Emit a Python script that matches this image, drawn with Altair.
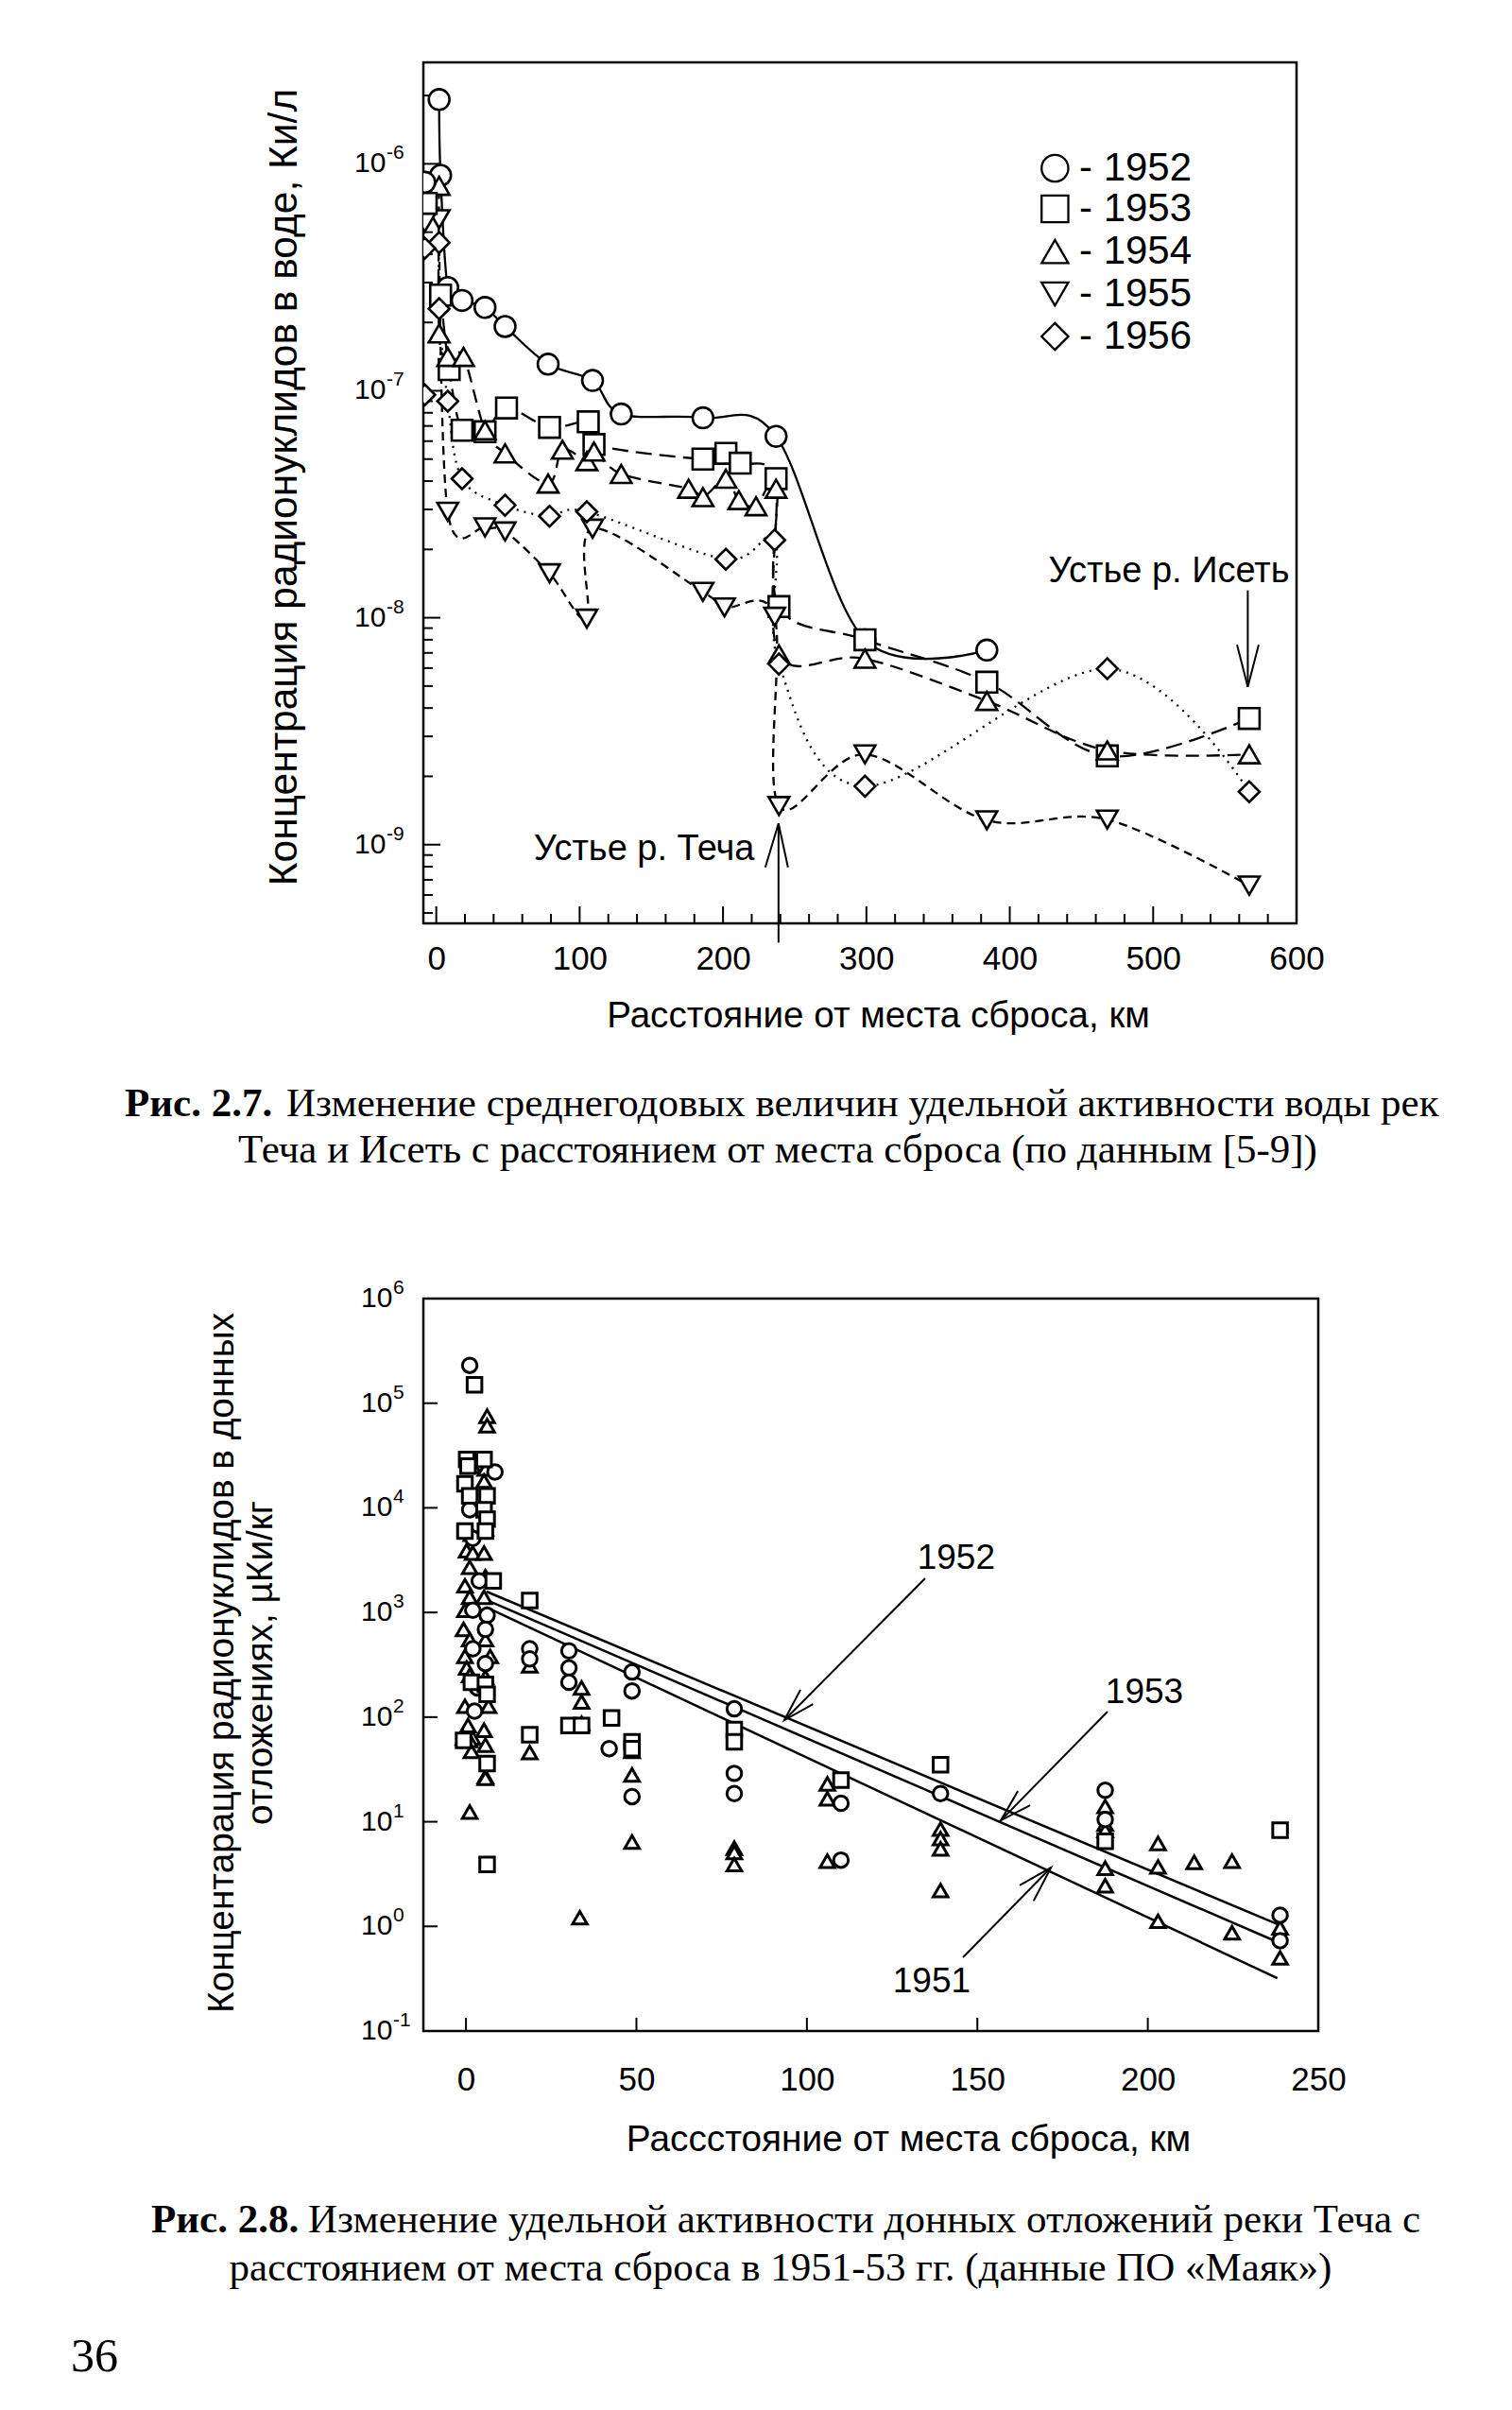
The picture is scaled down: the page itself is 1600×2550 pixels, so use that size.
import altair as alt
import pandas as pd

# ================= Fig. 2.7 : water =================
years_top = ["1952", "1953", "1954", "1955", "1956"]
shapes_top = ["circle", "square", "triangle-up", "triangle-down", "diamond"]

km_1952 = [2, 3, 8, 18, 34, 48, 78, 109, 129, 186, 237, 299, 384]
val_1952 = [1.92e-6, 8.9e-7, 2.85e-7, 2.5e-7, 2.33e-7, 1.92e-7, 1.31e-7, 1.11e-7, 7.9e-8, 7.6e-8, 6.3e-8, 8.0e-9, 7.2e-9]

km_1953 = [3, 9, 18, 34, 49, 79, 106, 110, 186, 202, 212, 237, 239, 299, 384, 468, 567]
val_1953 = [2.64e-7, 1.24e-7, 6.7e-8, 6.6e-8, 8.4e-8, 6.9e-8, 7.3e-8, 5.8e-8, 5.0e-8, 5.3e-8, 4.8e-8, 4.1e-8, 1.12e-8, 8.0e-9, 5.2e-9, 2.46e-9, 3.6e-9]

km_1954 = [2, 2, 8, 19, 34, 48, 78, 88, 105, 110, 129, 176, 186, 202, 211, 223, 237, 239, 299, 384, 468, 567]
val_1954 = [8.0e-7, 1.79e-7, 1.41e-7, 1.41e-7, 6.7e-8, 5.3e-8, 3.9e-8, 5.5e-8, 4.9e-8, 5.4e-8, 4.3e-8, 3.7e-8, 3.4e-8, 4.1e-8, 3.3e-8, 3.1e-8, 3.7e-8, 6.9e-9, 6.6e-9, 4.3e-9, 2.6e-9, 2.5e-9]

km_1955 = [2, 8, 34, 48, 79, 105, 109, 186, 201, 236, 239, 299, 384, 468, 567]
val_1955 = [5.7e-7, 2.93e-8, 2.5e-8, 2.4e-8, 1.57e-8, 9.9e-9, 2.47e-8, 1.3e-8, 1.11e-8, 1.01e-8, 1.48e-9, 2.5e-9, 1.28e-9, 1.29e-9, 6.6e-10]

km_1956 = [2, 2, 8, 18, 48, 79, 105, 202, 236, 239, 299, 468, 567]
val_1956 = [4.5e-7, 2.3e-7, 9.0e-8, 4.1e-8, 3.13e-8, 2.8e-8, 2.93e-8, 1.81e-8, 2.2e-8, 6.25e-9, 1.81e-9, 5.96e-9, 1.71e-9]

# markers half hidden behind the left frame
edge_year = ["1952", "1953", "1955", "1956", "1956"]
edge_km = [-8, -7, -8, -8, -8]
edge_val = [8.3e-7, 6.7e-7, 5.5e-7, 4.25e-7, 9.6e-8]

# legend placed inside the plot (data coordinates)
legend_labels = ["- 1952", "- 1953", "- 1954", "- 1955", "- 1956"]
legend_val = [9.56e-7, 6.33e-7, 4.11e-7, 2.67e-7, 1.735e-7]
legend_symbol_km = 431.5
legend_text_km = 448.4

x_ticks_top = [0, 100, 200, 300, 400, 500, 600]
y_ticks_top = [1e-9, 1e-8, 1e-7, 1e-6]
y_exp_top = ["-9", "-8", "-7", "-6"]

# annotations (data coordinates)
techa_text = ["Устье р. Теча"]
techa_text_km = [145]
techa_text_val = [9.5e-10]
iset_text = ["Устье р. Исеть"]
iset_text_km = [511]
iset_text_val = [1.6e-8]
techa_arrow_km = [238.7, 238.7, 229.5, 238.7, 245.3]
techa_arrow_val = [3.7e-10, 1.24e-9, 7.94e-10, 1.24e-9, 7.94e-10]
techa_arrow_part = ["shaft", "shaft", "head", "head", "head"]
iset_arrow_km = [566, 566, 558.5, 566, 573.6]
iset_arrow_val = [1.32e-8, 4.96e-9, 7.6e-9, 4.96e-9, 7.6e-9]
iset_arrow_part = ["shaft", "shaft", "head", "head", "head"]

cap27_bold = "Рис. 2.7."
cap27_line1 = "Изменение среднегодовых величин удельной активности воды рек"
cap27_line2 = "Теча и Исеть с расстоянием от места сброса (по данным [5-9])"

# ================= Fig. 2.8 : bottom sediments =================
years_bot = ["1951", "1952", "1953"]
shapes_bot = ["triangle-up", "circle", "square"]

km_b1951 = [6.2, 6.2, 2.0, 5.7, 5.3, 5.7, 1.6, 0.2, 2.0, 5.3, 1.1, 5.7, -0.3, 1.1, 5.3, -0.3, -0.7, 1.1, 5.7,
            -0.3, 7.1, 0.2, 1.1, 5.7, -0.3, 6.6, 0.6, 5.3, -0.7, 2.0, 1.1, 1.6, 5.7, 5.7, 5.7, 1.1,
            18.7, 18.7, 33.9, 33.9, 33.9, 33.4, 48.7, 48.7, 48.7, 78.7, 78.7, 78.7, 106, 106, 106,
            139.2, 139.2, 139.2, 139.2, 187.5, 187.5, 187.5, 187.5, 187.5, 203, 203, 203, 213.6, 224.7, 224.7,
            238.8, 238.8]
val_b1951 = [7.5e4, 6.1e4, 2.5e4, 2.35e4, 1.8e4, 6.3e3, 5.6e3, 3.9e3, 3.7e3, 3.7e3, 2.7e3, 2.2e3, 1.8e3, 1.4e3,
             1.4e3, 1.05e3, 690, 550, 550, 380, 380, 295, 250, 240, 127, 127, 83, 75, 63, 63, 60, 47, 54, 27, 26, 12.4,
             310, 46, 190, 140, 87, 1.21, 47, 28, 6.4, 5.6, 5.1, 3.9, 23, 16.6, 4.2,
             8.5, 6.9, 5.5, 2.2, 14, 9.5, 8.3, 3.6, 2.45, 6.2, 3.7, 1.12, 4.1, 4.2, 0.87,
             0.97, 0.5]

km_b1952 = [1.1, 8.5, 1.1, 2.0, 3.9, 2.0, 6.2, 5.7, 2.0, 5.7, 3.4, 2.5,
            18.7, 18.7, 30.2, 30.2, 30.2, 42, 48.7, 48.7, 48.7, 78.7, 78.7, 78.7, 110, 110, 139.2,
            187.5, 187.5, 238.8, 238.8]
val_b1952 = [2.3e5, 2.2e4, 9.6e3, 5.1e3, 2.0e3, 1.05e3, 940, 690, 450, 325, 190, 114,
             450, 360, 430, 295, 215, 50, 270, 178, 17.4, 120, 29, 18.6, 15, 4.3, 18.6,
             20, 10.5, 1.28, 0.73]

km_b1953 = [2.5, 0.2, 0.6, 5.3, -0.3, 1.1, 6.2, 5.3, 6.2, -0.3, 5.7, 8.0, 1.6, 5.7, 6.2, -0.7, 6.2, 6.2,
            18.7, 18.7, 30.2, 33.9, 42.7, 48.7, 48.7, 78.7, 78.7, 110, 139.2, 187.5, 238.8]
val_b1953 = [1.5e5, 2.9e4, 2.5e4, 2.9e4, 1.7e4, 1.3e4, 1.3e4, 9.6e3, 7.8e3, 6.0e3, 6.0e3, 2.0e3, 215, 205, 165,
             60, 36, 3.9,
             1.3e3, 68, 83, 83, 98, 58, 50, 76, 58, 25, 35, 6.5, 8.3]

# fitted lines (end points)
reg_year = ["1952", "1952", "1953", "1953", "1951", "1951"]
reg_km = [6, 238, 6, 238, 6, 238]
reg_val = [1585, 1.05, 1320, 0.71, 1120, 0.32]

lab_bot_text = ["1952", "1953", "1951"]
lab_bot_km = [143.8, 199, 136.6]
lab_bot_val = [3280, 171, 0.295]

arr_bot_km = [134.7, 93.4, 98.1, 93.4, 101.8,
              188.2, 156.9, 161.9, 156.9, 165.5,
              145.8, 171.6, 162.4, 171.6, 166.5]
arr_bot_val = [2120, 93.6, 182, 93.6, 133,
               113, 10.3, 19.7, 10.3, 14.4,
               0.506, 3.65, 2.47, 3.65, 1.75]
arr_bot_part = ["a1", "a1", "h1", "h1", "h1",
                "a2", "a2", "h2", "h2", "h2",
                "a3", "a3", "h3", "h3", "h3"]

x_ticks_bot = [0, 50, 100, 150, 200, 250]
y_ticks_bot = [0.1, 1, 10, 100, 1e3, 1e4, 1e5, 1e6]
y_exp_bot = ["-1", "0", "1", "2", "3", "4", "5", "6"]

cap28_bold = "Рис. 2.8."
cap28_line1 = "Изменение удельной активности донных отложений реки Теча с"
cap28_line2 = "расстоянием от места сброса в 1951-53 гг. (данные ПО «Маяк»)"
page_number = "36"

# ================= helpers =================
SANS = "Liberation Sans, Arial, DejaVu Sans"
NARROW = "Liberation Sans Narrow, Arial Narrow, Liberation Sans"
SERIF = "Liberation Serif, Times New Roman, DejaVu Serif"
CAP = 43

W_TOP, H_TOP = 924, 911
W_BOT, H_BOT = 947, 775


def sdf(kms, vals, year):
    return pd.DataFrame({"km": kms, "val": vals, "year": year, "idx": list(range(len(kms)))})


def text_layer(txt, x, y, font, size, align="left", weight="normal"):
    return alt.Chart(pd.DataFrame({"t": [txt]})).mark_text(
        align=align, baseline="middle", font=font, fontSize=size, fontWeight=weight, color="black"
    ).encode(x=alt.value(x), y=alt.value(y), text="t:N")


def power_labels(values, exps, Y, x_base):
    """'10' with a raised exponent, placed at each tick through the y scale."""
    df = pd.DataFrame({"val": values, "base": ["10"] * len(values), "e": exps})
    base = alt.Chart(df).mark_text(align="left", baseline="middle", font=SANS, fontSize=30,
                                   color="black").encode(y=Y, x=alt.value(x_base), text="base:N")
    sup = alt.Chart(df).mark_text(align="left", baseline="middle", font=SANS, fontSize=21, dy=-11,
                                  color="black").encode(y=Y, x=alt.value(x_base + 34), text="e:N")
    return [base, sup]


# ================= top chart =================
xs_t = alt.Scale(domain=[-9, 600], nice=False, zero=False)
ys_t = alt.Scale(type="log", domain=[4.5e-10, 2.8e-6], nice=False)
ax_x_top = alt.Axis(
    values=x_ticks_top, format="d", labelFont=SANS, labelFontSize=35, labelColor="black",
    labelPadding=20, labelFlush=False, labelOverlap=False, ticks=False, tickSize=0, domain=False, grid=False,
    title="Расстояние от места сброса, км", titleFont=NARROW, titleFontSize=38.6,
    titleFontWeight="normal", titleColor="black", titleX=481, titleY=97,
    titleBaseline="middle", titleAlign="center")
ax_y_top = alt.Axis(
    values=y_ticks_top, labels=False, ticks=False, tickSize=0, domain=False, grid=False,
    title="Концентрация радионуклидов в воде, Ки/л", titleFont=NARROW, titleFontSize=42.5,
    titleFontWeight="normal", titleColor="black", titleAngle=270, titleX=-148, titleY=449,
    titleBaseline="middle", titleAlign="center")
Xt = alt.X("km:Q", scale=xs_t, axis=ax_x_top)
Yt = alt.Y("val:Q", scale=ys_t, axis=ax_y_top)

series_top = {
    "1952": (km_1952, val_1952, None),
    "1953": (km_1953, val_1953, [17, 8]),
    "1954": (km_1954, val_1954, [14, 8]),
    "1955": (km_1955, val_1955, [9, 6]),
    "1956": (km_1956, val_1956, [2, 6]),
}

top_layers = []
for yr, (k, v, dash) in series_top.items():
    kw = dict(interpolate="cardinal", color="black", strokeWidth=2.3, clip=True)
    if dash:
        kw["strokeDash"] = dash
    top_layers.append(alt.Chart(sdf(k, v, yr)).mark_line(**kw).encode(x=Xt, y=Yt, order="idx:Q"))

pts_top = pd.concat([sdf(k, v, yr) for yr, (k, v, _) in series_top.items()] +
                    [pd.DataFrame({"km": edge_km, "val": edge_val, "year": edge_year})], ignore_index=True)

shape_top = alt.Scale(domain=years_top, range=shapes_top)
top_points = alt.Chart(pts_top).mark_point(
    color="black", filled=False, fill="white", fillOpacity=1, strokeWidth=2.6, size=480, opacity=1, clip=True
).encode(x=Xt, y=Yt, shape=alt.Shape("year:N", scale=shape_top, legend=None))

legend_df = pd.DataFrame({"year": years_top, "val": legend_val, "t": legend_labels,
                          "ks": [legend_symbol_km] * 5, "kt": [legend_text_km] * 5})
legend_layers = [
    alt.Chart(legend_df).mark_point(color="black", filled=False, fill="white", fillOpacity=1,
                                    strokeWidth=2.3, size=800, opacity=1).encode(
        x=alt.X("ks:Q", scale=xs_t, axis=ax_x_top), y=Yt,
        shape=alt.Shape("year:N", scale=shape_top, legend=None)),
    alt.Chart(legend_df).mark_text(align="left", baseline="middle", font=SANS, fontSize=42,
                                   color="black").encode(
        x=alt.X("kt:Q", scale=xs_t, axis=ax_x_top), y=Yt, text="t:N"),
]

# tick marks pointing inwards
x_minor_top = [v for v in range(20, 600, 20) if v % 100 != 0]
y_minor_top = [m * 10.0 ** e for e in range(-10, -5) for m in range(2, 10) if 4.5e-10 < m * 10.0 ** e < 2.8e-6]

tick_layers_top = [
    alt.Chart(pd.DataFrame({"km": x_ticks_top})).mark_rule(color="black", strokeWidth=2).encode(
        x=Xt, y=alt.value(H_TOP), y2=alt.value(H_TOP - 18)),
    alt.Chart(pd.DataFrame({"km": x_minor_top})).mark_rule(color="black", strokeWidth=2).encode(
        x=Xt, y=alt.value(H_TOP), y2=alt.value(H_TOP - 10)),
    alt.Chart(pd.DataFrame({"val": y_ticks_top})).mark_rule(color="black", strokeWidth=2).encode(
        y=Yt, x=alt.value(0), x2=alt.value(18)),
    alt.Chart(pd.DataFrame({"val": y_minor_top})).mark_rule(color="black", strokeWidth=2).encode(
        y=Yt, x=alt.value(0), x2=alt.value(10)),
]

ann_top = [
    alt.Chart(pd.DataFrame({"km": techa_text_km, "val": techa_text_val, "t": techa_text})).mark_text(
        font=SANS, fontSize=38, color="black", align="center", baseline="middle").encode(x=Xt, y=Yt, text="t:N"),
    alt.Chart(pd.DataFrame({"km": iset_text_km, "val": iset_text_val, "t": iset_text})).mark_text(
        font=SANS, fontSize=38, color="black", align="center", baseline="middle").encode(x=Xt, y=Yt, text="t:N"),
    alt.Chart(pd.DataFrame({"km": techa_arrow_km, "val": techa_arrow_val, "part": techa_arrow_part,
                            "idx": list(range(5))})).mark_line(color="black", strokeWidth=2).encode(
        x=Xt, y=Yt, detail="part:N", order="idx:Q"),
    alt.Chart(pd.DataFrame({"km": iset_arrow_km, "val": iset_arrow_val, "part": iset_arrow_part,
                            "idx": list(range(5))})).mark_line(color="black", strokeWidth=2).encode(
        x=Xt, y=Yt, detail="part:N", order="idx:Q"),
]

cap_top = [
    text_layer(cap27_bold, -316, 1102, SERIF, CAP, "left", "bold"),
    text_layer(cap27_line1, -145, 1102, SERIF, CAP, "left"),
    text_layer(cap27_line2, 375, 1151, SERIF, CAP, "center"),
]

top = alt.layer(*top_layers, *tick_layers_top, *ann_top, top_points, *legend_layers,
                *power_labels(y_ticks_top, y_exp_top, Yt, -73), *cap_top).properties(
    width=W_TOP, height=H_TOP)

# ================= bottom chart =================
xs_b = alt.Scale(domain=[-12.5, 250], nice=False, zero=False)
ys_b = alt.Scale(type="log", domain=[0.1, 1e6], nice=False)
ax_x_bot = alt.Axis(
    values=x_ticks_bot, format="d", labelFont=SANS, labelFontSize=35, labelColor="black",
    labelPadding=34, labelFlush=False, labelOverlap=False, ticks=False, tickSize=0, domain=False, grid=False,
    title="Рассстояние от места сброса, км", titleFont=NARROW, titleFontSize=38.8,
    titleFontWeight="normal", titleColor="black", titleX=513, titleY=114,
    titleBaseline="middle", titleAlign="center")
ax_y_bot = alt.Axis(
    values=y_ticks_bot, labels=False, ticks=False, tickSize=0, domain=False, grid=False,
    title=["Концентарация радионуклидов в донных", "отложениях, µКи/кг"], titleFont=NARROW,
    titleFontSize=38.8, titleFontWeight="normal", titleColor="black", titleAngle=270,
    titleX=-214, titleY=385, titleBaseline="middle", titleAlign="center", titleLineHeight=41)
Xb = alt.X("km:Q", scale=xs_b, axis=ax_x_bot)
Yb = alt.Y("val:Q", scale=ys_b, axis=ax_y_bot)

reg_df = pd.DataFrame({"km": reg_km, "val": reg_val, "year": reg_year})
reg_layer = alt.Chart(reg_df).mark_line(color="black", strokeWidth=2.5).encode(x=Xb, y=Yb, detail="year:N")

pts_bot = pd.concat([sdf(km_b1951, val_b1951, "1951"), sdf(km_b1952, val_b1952, "1952"),
                     sdf(km_b1953, val_b1953, "1953")], ignore_index=True)

bot_points = alt.Chart(pts_bot).mark_point(
    color="black", filled=False, fill="white", fillOpacity=1, strokeWidth=3, size=240, opacity=1, clip=True
).encode(
    x=Xb, y=Yb,
    shape=alt.Shape("year:N", scale=alt.Scale(domain=years_bot, range=shapes_bot), legend=None),
)

tick_layers_bot = [
    alt.Chart(pd.DataFrame({"km": x_ticks_bot})).mark_rule(color="black", strokeWidth=2).encode(
        x=Xb, y=alt.value(H_BOT), y2=alt.value(H_BOT - 14)),
    alt.Chart(pd.DataFrame({"val": y_ticks_bot})).mark_rule(color="black", strokeWidth=2).encode(
        y=Yb, x=alt.value(0), x2=alt.value(15)),
]

ann_bot = [
    alt.Chart(pd.DataFrame({"km": lab_bot_km, "val": lab_bot_val, "t": lab_bot_text})).mark_text(
        font=SANS, fontSize=37, color="black", align="center", baseline="middle").encode(x=Xb, y=Yb, text="t:N"),
    alt.Chart(pd.DataFrame({"km": arr_bot_km, "val": arr_bot_val, "part": arr_bot_part,
                            "idx": list(range(len(arr_bot_km)))})).mark_line(color="black", strokeWidth=2).encode(
        x=Xb, y=Yb, detail="part:N", order="idx:Q"),
]

cap_bot = [
    text_layer(cap28_bold, -288, 975, SERIF, CAP, "left", "bold"),
    text_layer(cap28_line1, -122, 975, SERIF, CAP, "left"),
    text_layer(cap28_line2, 378, 1026, SERIF, CAP, "center"),
    text_layer(page_number, -373, 1120, SERIF, 50, "left"),
]

bottom = alt.layer(reg_layer, *tick_layers_bot, *ann_bot, bot_points,
                   *power_labels(y_ticks_bot, y_exp_bot, Yb, -66), *cap_bot).properties(
    width=W_BOT, height=H_BOT)

chart = alt.vconcat(top, bottom, spacing=109).resolve_scale(
    x="independent", y="independent", shape="independent"
).properties(
    padding={"left": 65, "top": 56, "right": 10, "bottom": 10},
    background="white",
).configure(font=SANS).configure_view(stroke="black", strokeWidth=2.5)

chart.save("out.html", embed_options={"renderer": "svg", "actions": False})
